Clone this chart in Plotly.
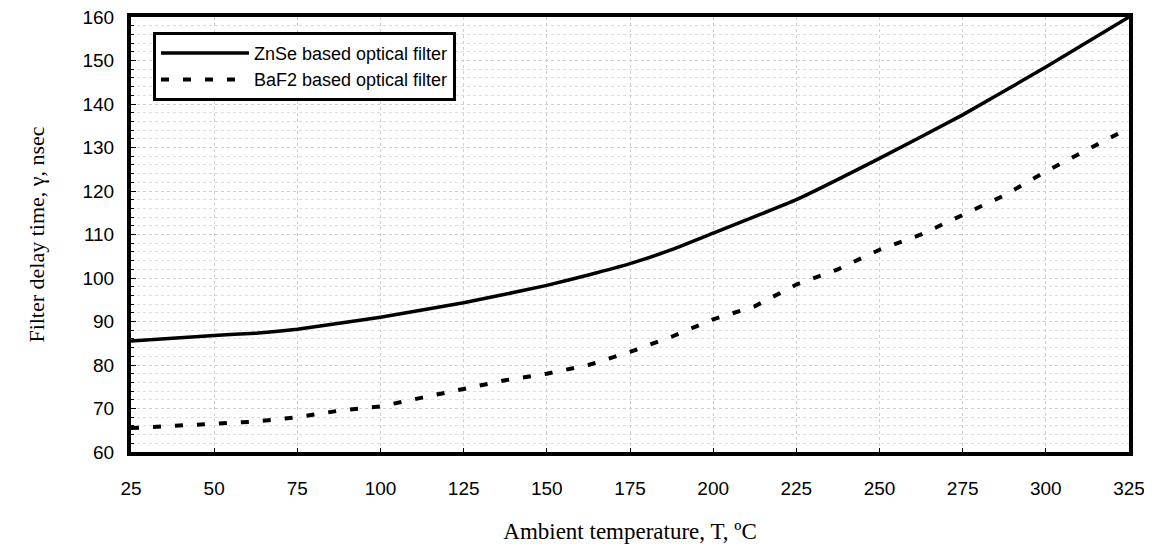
import plotly.graph_objects as go

temp_znse = [25, 50, 62.5, 75, 100, 125, 150, 162.5, 175, 187.5, 200, 225, 250, 275, 300, 325]
delay_znse = [85.5, 86.8, 87.3, 88.2, 91.0, 94.3, 98.3, 100.7, 103.3, 106.5, 110.3, 118.0, 127.5, 137.5, 148.5, 160.0]

temp_baf2 = [25, 37.5, 50, 62.5, 75, 87.5, 100, 112.5, 125, 137.5, 150, 162.5, 175, 187.5,
             200, 212.5, 225, 237.5, 250, 262.5, 275, 287.5, 300, 312.5, 325]
delay_baf2 = [65.5, 65.9, 66.5, 67.0, 68.0, 69.5, 70.5, 72.5, 74.5, 76.5, 78.0, 80.0, 83.0, 86.5,
              90.5, 93.5, 98.5, 102.0, 106.5, 110.0, 114.5, 119.0, 124.5, 129.5, 134.5]

x_ticks = [25, 50, 75, 100, 125, 150, 175, 200, 225, 250, 275, 300, 325]
y_ticks = [60, 70, 80, 90, 100, 110, 120, 130, 140, 150, 160]

fig = go.Figure()
fig.add_trace(go.Scatter(x=temp_znse, y=delay_znse, mode="lines", name="ZnSe based optical filter",
                         line=dict(color="black", width=3.5, shape="spline", smoothing=0.4)))
fig.add_trace(go.Scatter(x=temp_baf2, y=delay_baf2, mode="lines", name="BaF2 based optical filter",
                         line=dict(color="black", width=4, dash="8px,14px")))

fig.update_layout(
    width=1144, height=540,
    margin=dict(l=123, r=23, t=9, b=96, autoexpand=False),
    plot_bgcolor="white", paper_bgcolor="white",
    font=dict(family="Liberation Sans, Arial", size=19, color="black"),
    legend=dict(x=0.022, y=0.966, xanchor="left", yanchor="top",
                bordercolor="black", borderwidth=3, bgcolor="white",
                font=dict(size=18, family="Liberation Sans, Arial"),
                tracegroupgap=0, itemwidth=88),
    xaxis=dict(range=[25, 325], tickvals=x_ticks, ticks="inside", ticklen=4, tickcolor="black",
               ticklabelstandoff=16, automargin=False, ticklabeloverflow="allow",
               showgrid=True, gridcolor="#d0d0d0", griddash="dot", gridwidth=1,
               showline=True, linecolor="black", linewidth=4, mirror=True, zeroline=False,
               title=dict(text="Ambient temperature, T, ºC", standoff=26,
                          font=dict(family="Liberation Serif, Times New Roman", size=23)),
               tickfont=dict(size=19)),
    yaxis=dict(range=[60, 160], tickvals=y_ticks, ticks="inside", ticklen=5, tickcolor="black",
               ticklabelstandoff=9, automargin=False, ticklabeloverflow="allow",
               showgrid=True, gridcolor="#d0d0d0", griddash="dot", gridwidth=1,
               minor=dict(dtick=2, tick0=60, showgrid=True, gridcolor="#dcdcdc", griddash="dot",
                          ticks="inside", ticklen=3, tickcolor="black"),
               showline=True, linecolor="black", linewidth=4, mirror=True, zeroline=False,
               title=dict(text="Filter delay time, γ, nsec", standoff=33,
                          font=dict(family="Liberation Serif, Times New Roman", size=22)),
               tickfont=dict(size=19)),
)

fig.write_html("out.html")
